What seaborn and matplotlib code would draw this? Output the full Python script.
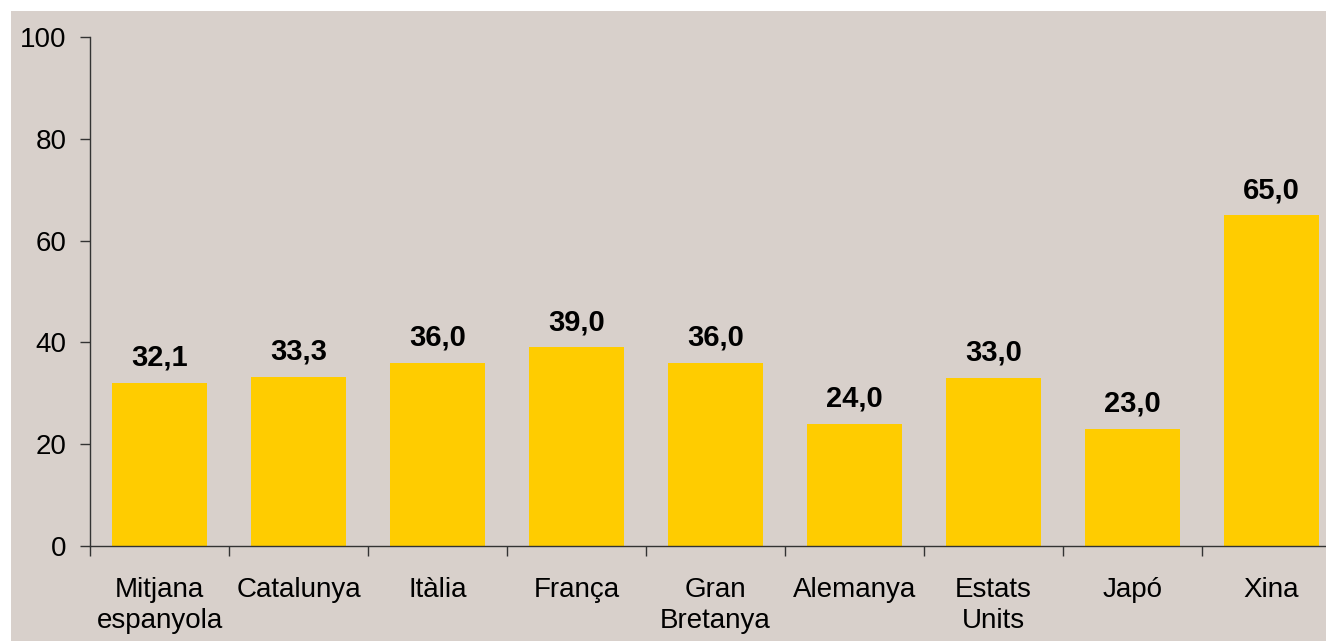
import matplotlib
matplotlib.use('Agg')
import matplotlib.pyplot as plt
import seaborn as sns
import pandas as pd
import numpy as np

categories = ['Mitjana\nespanyola', 'Catalunya', 'Itàlia', 'França', 'Gran\nBretanya',
              'Alemanya', 'Estats\nUnits', 'Japó', 'Xina']
values = [32.1, 33.3, 36.0, 39.0, 36.0, 24.0, 33.0, 23.0, 65.0]
value_labels = ['32,1', '33,3', '36,0', '39,0', '36,0', '24,0', '33,0', '23,0', '65,0']
y_ticks = [0, 20, 40, 60, 80, 100]

bg = '#D8D0CB'
bar_color = '#FFCC00'

sns.set_style('ticks')
plt.rcParams['font.family'] = ['Liberation Sans', 'DejaVu Sans']

fig = plt.figure(figsize=(13.26, 6.41), dpi=100)
fig.patch.set_facecolor('white')
fig.patches.append(plt.Rectangle((11 / 1326, 0), 1, 1 - 11 / 641, transform=fig.transFigure,
                                 facecolor=bg, edgecolor='none', zorder=-10))

W, H = 1326, 641
ax = fig.add_axes([90 / W, 1 - 546 / H, 1251 / W, (546 - 37) / H])
ax.set_facecolor(bg)

df = pd.DataFrame({'cat': categories, 'val': values})
sns.barplot(data=df, x='cat', y='val', color=bar_color, saturation=1, width=0.68,
            edgecolor='none', linewidth=0, ax=ax)

for i, (v, lab) in enumerate(zip(values, value_labels)):
    ax.annotate(lab, (i, v), xytext=(0, 8), textcoords='offset points',
                ha='center', va='bottom', fontsize=21, fontweight='bold', color='black')

ax.set_xlim(-0.5, len(categories) - 0.5)
ax.set_ylim(0, 100)
ax.set_yticks(y_ticks)
ax.set_yticklabels([str(t) for t in y_ticks], fontsize=20)
ax.tick_params(axis='y', direction='out', length=7, width=1, color='#333333',
               labelcolor='black', pad=10)
ax.tick_params(axis='x', which='major', length=0, pad=22, labelsize=20, labelcolor='black')
for t in ax.get_xticklabels():
    t.set_linespacing(1.25)
ax.set_xticks(np.arange(-0.5, len(categories), 1), minor=True)
ax.tick_params(axis='x', which='minor', direction='out', length=7, width=1, color='#333333')
ax.set_xlabel('')
ax.set_ylabel('')

for s in ['top', 'right']:
    ax.spines[s].set_visible(False)
for s in ['left', 'bottom']:
    ax.spines[s].set_color('#333333')
    ax.spines[s].set_linewidth(1)

plt.savefig('out.png', dpi=100, facecolor=fig.get_facecolor())
plt.close()
